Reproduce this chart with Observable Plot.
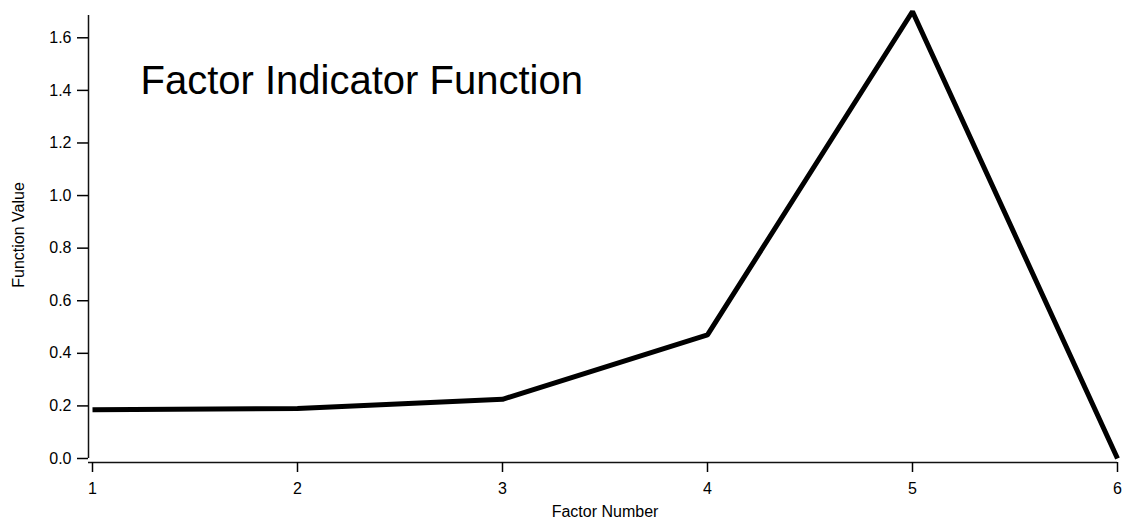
<!DOCTYPE html>
<html>
<head>
<meta charset="utf-8">
<script src="https://cdn.jsdelivr.net/npm/d3@7"></script>
<script src="https://cdn.jsdelivr.net/npm/@observablehq/plot@0.6"></script>
<style>
  html, body { margin: 0; padding: 0; background: #fff; }
  #chart svg { display: block; }
</style>
</head>
<body>
<div id="chart"></div>
<script>
// Factor indicator function values, one per factor
const factors = [1, 2, 3, 4, 5, 6];
const values = [0.185, 0.19, 0.225, 0.47, 1.70, 0.0];

const xTicks = [1, 2, 3, 4, 5, 6];
const yTicks = [0, 0.2, 0.4, 0.6, 0.8, 1.0, 1.2, 1.4, 1.6];

const titleText = "Factor Indicator Function";
const xLabel = "Factor Number";
const yLabel = "Function Value";

const table = factors.map((f, i) => ({factor: f, value: values[i]}));

const chart = Plot.plot({
  width: 1126,
  height: 525,
  marginLeft: 92,
  marginRight: 9,
  marginTop: 11,
  marginBottom: 67,
  style: {fontFamily: "'Liberation Sans', Arial, sans-serif", fontSize: "16px", color: "#000", background: "#fff"},
  x: {domain: [1, 6]},
  y: {domain: [0, 1.7]},
  marks: [
    // offset axis lines
    Plot.ruleX([1], {y1: 0, y2: 1.7, dx: -4, insetBottom: -4, stroke: "#111", strokeWidth: 1.5}),
    Plot.ruleY([0], {x1: 1, x2: 6, dy: 4, insetLeft: -4, stroke: "#111", strokeWidth: 1.5}),
    Plot.axisY({ticks: yTicks, tickFormat: d3.format(".1f"), tickSize: 11, tickPadding: 6, dx: -4, label: null, strokeWidth: 1.5, fontSize: 16}),
    Plot.axisX({ticks: xTicks, tickFormat: d3.format("d"), tickSize: 10, tickPadding: 10, dy: 4, label: null, strokeWidth: 1.5, fontSize: 16}),
    Plot.text([yLabel], {text: d => d, frameAnchor: "left", textAnchor: "middle", lineAnchor: "middle", rotate: -90, dx: -74, fontSize: 16}),
    Plot.text([xLabel], {text: d => d, frameAnchor: "bottom", textAnchor: "middle", lineAnchor: "top", dy: 47, fontSize: 16}),
    Plot.text([titleText], {text: d => d, frameAnchor: "top-left", textAnchor: "start", lineAnchor: "top", dx: 48, dy: 54, fontSize: 40}),
    Plot.line(table, {x: "factor", y: "value", stroke: "#000", strokeWidth: 5, strokeLinejoin: "miter", strokeLinecap: "butt"})
  ]
});

document.getElementById("chart").appendChild(chart);
</script>
</body>
</html>
